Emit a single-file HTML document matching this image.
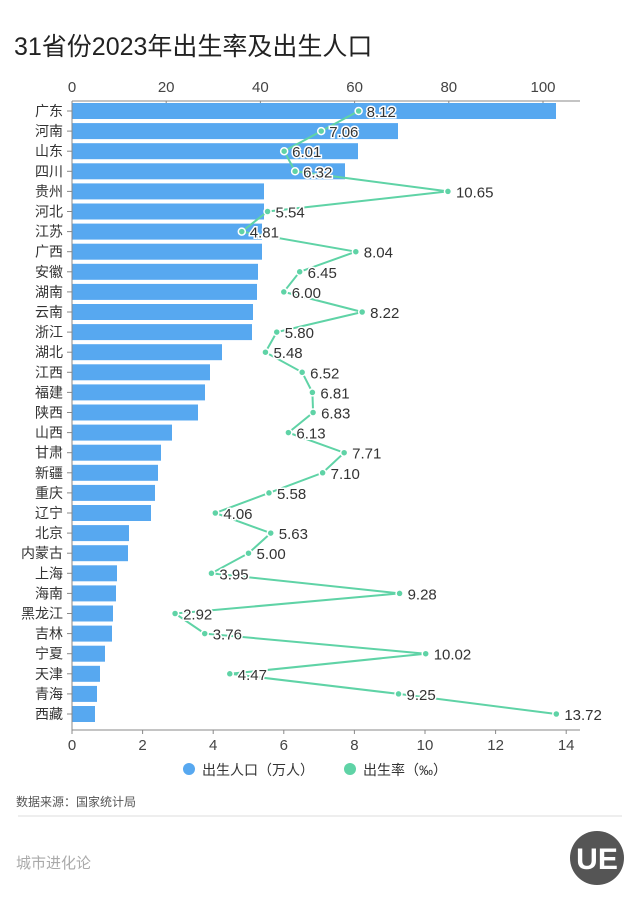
<!DOCTYPE html>
<html><head><meta charset="utf-8"><style>
body{margin:0;background:#fff;width:640px;height:917px;overflow:hidden;font-family:"Liberation Sans","Noto Sans CJK SC",sans-serif;}
</style></head><body>
<svg width="640" height="917" xmlns="http://www.w3.org/2000/svg" font-family="Liberation Sans, Noto Sans CJK SC, sans-serif">
<text x="14" y="55" font-size="25" fill="#222">31省份2023年出生率及出生人口</text>
<g id="c"></g>
<line x1="18" y1="816" x2="622" y2="816" stroke="#ddd"/>
<text x="16" y="806" font-size="12" fill="#555">数据来源：国家统计局</text>
<text x="16" y="868" font-size="15" fill="#aaa">城市进化论</text>
<circle cx="597" cy="858" r="27" fill="#555"/>
<text x="597" y="869" font-size="30" font-weight="bold" fill="#fff" text-anchor="middle">UE</text>
</svg>
<script>
const names=["广东","河南","山东","四川","贵州","河北","江苏","广西","安徽","湖南","云南","浙江","湖北","江西","福建","陕西","山西","甘肃","新疆","重庆","辽宁","北京","内蒙古","上海","海南","黑龙江","吉林","宁夏","天津","青海","西藏"];
const ends=[556,398,358,345,264,264,262,262,258,257,253,252,222,210,205,198,172,161,158,155,151,129,128,117,116,113,112,105,100,97,95];
const rates=[8.12,7.06,6.01,6.32,10.65,5.54,4.81,8.04,6.45,6.00,8.22,5.80,5.48,6.52,6.81,6.83,6.13,7.71,7.10,5.58,4.06,5.63,5.00,3.95,9.28,2.92,3.76,10.02,4.47,9.25,13.72];
const X0=72,sx=35.3,Y0=111,dy=20.1;
let s='';
// top axis
s+=`<line x1="${X0}" y1="101" x2="580" y2="101" stroke="#888"/>`;
[0,20,40,60,80,100].forEach(v=>{let x=X0+v*4.71;s+=`<line x1="${x}" y1="101" x2="${x}" y2="105" stroke="#888"/><text x="${x}" y="92" font-size="15" fill="#444" text-anchor="middle">${v}</text>`;});
names.forEach((n,i)=>{let y=Y0+i*dy;
s+=`<rect x="${X0}" y="${y-8}" width="${ends[i]-X0}" height="16" fill="#57a8f0"/>`;
s+=`<line x1="${X0-5}" y1="${y}" x2="${X0}" y2="${y}" stroke="#888"/>`;
s+=`<text x="${X0-9}" y="${y+5}" font-size="14" fill="#333" text-anchor="end">${n}</text>`;});
s+=`<line x1="${X0}" y1="101" x2="${X0}" y2="730" stroke="#888"/>`;
s+=`<line x1="${X0}" y1="730" x2="580" y2="730" stroke="#888"/>`;
for(let v=0;v<=14;v+=2){let x=X0+v*sx;s+=`<line x1="${x}" y1="730" x2="${x}" y2="734" stroke="#888"/><text x="${x}" y="750" font-size="15" fill="#444" text-anchor="middle">${v}</text>`;}
let pts=rates.map((r,i)=>`${X0+r*sx},${Y0+i*dy}`).join(' ');
s+=`<polyline points="${pts}" fill="none" stroke="#5fd3a6" stroke-width="2"/>`;
rates.forEach((r,i)=>{let x=X0+r*sx,y=Y0+i*dy;
s+=`<circle cx="${x}" cy="${y}" r="3.5" fill="#5fd3a6" stroke="#fff" stroke-width="1.5"/>`;
s+=`<text x="${x+8}" y="${y+6}" font-size="15" fill="#333" stroke="#fff" stroke-width="3" paint-order="stroke">${r.toFixed(2)}</text>`;});
s+=`<circle cx="189" cy="769" r="6" fill="#57a8f0"/><text x="202" y="775" font-size="14" fill="#333">出生人口（万人）</text>`;
s+=`<circle cx="350" cy="769" r="6" fill="#5fd3a6"/><text x="363" y="775" font-size="14" fill="#333">出生率（‰）</text>`;
document.getElementById('c').innerHTML=s;
</script>
</body></html>
